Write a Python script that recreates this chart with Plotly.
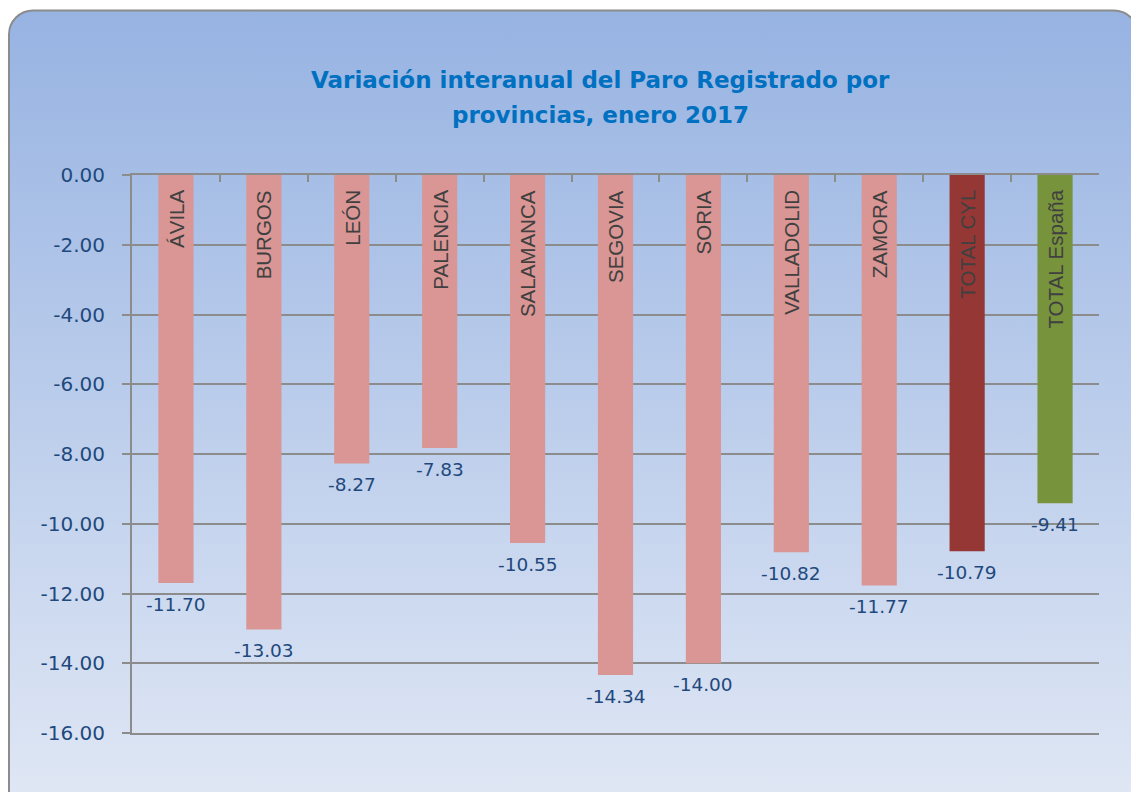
import base64
import plotly.graph_objects as go

# data
categories = ["ÁVILA", "BURGOS", "LEÓN", "PALENCIA", "SALAMANCA", "SEGOVIA",
              "SORIA", "VALLADOLID", "ZAMORA", "TOTAL CYL", "TOTAL España"]
values = [-11.70, -13.03, -8.27, -7.83, -10.55, -14.34,
          -14.00, -10.82, -11.77, -10.79, -9.41]
bar_colors = ["#D99694"] * 9 + ["#953735", "#77933C"]
tick_vals = [0, -2, -4, -6, -8, -10, -12, -14, -16]
tick_text = ["0.00", "-2.00", "-4.00", "-6.00", "-8.00", "-10.00",
             "-12.00", "-14.00", "-16.00"]
title_lines = ["Variación interanual del Paro Registrado por",
               "provincias, enero 2017"]

# the page body adds an 8px offset, so the figure is laid out 8px up/left
W, H = 1139, 792
margin = dict(l=124, r=48, t=167, b=67)
plot_w = W - margin["l"] - margin["r"]
plot_h = H - margin["t"] - margin["b"]

# rounded panel with a vertical gradient, drawn as an svg background
svg = f"""<svg xmlns="http://www.w3.org/2000/svg" width="{W}" height="{H}">
<defs><linearGradient id="g" x1="0" y1="0" x2="0" y2="1">
<stop offset="0" stop-color="#97B3E2"/><stop offset="1" stop-color="#E1E8F5"/>
</linearGradient></defs>
<rect x="0" y="0" width="{W}" height="{H}" fill="white"/>
<rect x="1" y="2.5" width="1129" height="805" rx="24" ry="24"
 fill="url(#g)" stroke="#8C8C8C" stroke-width="2"/>
</svg>"""
bg_src = "data:image/svg+xml;base64," + base64.b64encode(svg.encode()).decode()

fig = go.Figure()

fig.add_trace(go.Bar(
    x=categories,
    y=values,
    width=0.4,
    marker=dict(color=bar_colors, line=dict(width=0)),
    hoverinfo="skip",
))

# category names inside the bars, reading upwards
for cat in categories:
    fig.add_annotation(
        x=cat, y=0, text=cat, showarrow=False, textangle=-90,
        xanchor="center", yanchor="top", yshift=-13,
        font=dict(family="Liberation Sans", size=20.5, color="#404040"),
    )

# value labels under each bar
for cat, val in zip(categories, values):
    fig.add_annotation(
        x=cat, y=val, text=f"{val:.2f}", showarrow=False,
        xanchor="center", yanchor="top", yshift=-9,
        font=dict(family="DejaVu Sans", size=18.5, color="#1F497D"),
    )

# two-line title, placed as annotations to get the wider line spacing
for line, ypos in zip(title_lines, [1.1703, 1.1075]):
    fig.add_annotation(
        xref="paper", yref="paper", x=0.485, y=ypos, text=f"<b>{line}</b>",
        showarrow=False, xanchor="center", yanchor="middle",
        font=dict(family="DejaVu Sans", size=23, color="#0070C0"),
    )

fig.add_layout_image(
    source=bg_src, xref="paper", yref="paper",
    x=-margin["l"] / plot_w, y=1 + margin["t"] / plot_h,
    sizex=W / plot_w, sizey=H / plot_h,
    xanchor="left", yanchor="top", sizing="stretch", layer="below",
)

fig.update_layout(
    width=W, height=H,
    margin=margin,
    paper_bgcolor="white",
    plot_bgcolor="white",
    showlegend=False,
    xaxis=dict(
        side="top",
        showticklabels=False,
        ticks="inside", ticklen=7, tickwidth=2, tickcolor="#8C8C8C",
        tickson="boundaries",
        showline=True, mirror=True, linecolor="#8C8C8C", linewidth=2,
        showgrid=False, zeroline=False,
    ),
    yaxis=dict(
        range=[-16, 0],
        tickvals=tick_vals, ticktext=tick_text,
        ticks="outside", ticklen=8, tickwidth=2, tickcolor="#8C8C8C",
        ticklabelstandoff=13,
        tickfont=dict(family="DejaVu Sans", size=20, color="#1F497D"),
        showline=True, linecolor="#8C8C8C", linewidth=2,
        showgrid=True, gridcolor="#8C8C8C", gridwidth=2,
        zeroline=False,
    ),
)

fig.write_html("out.html")
